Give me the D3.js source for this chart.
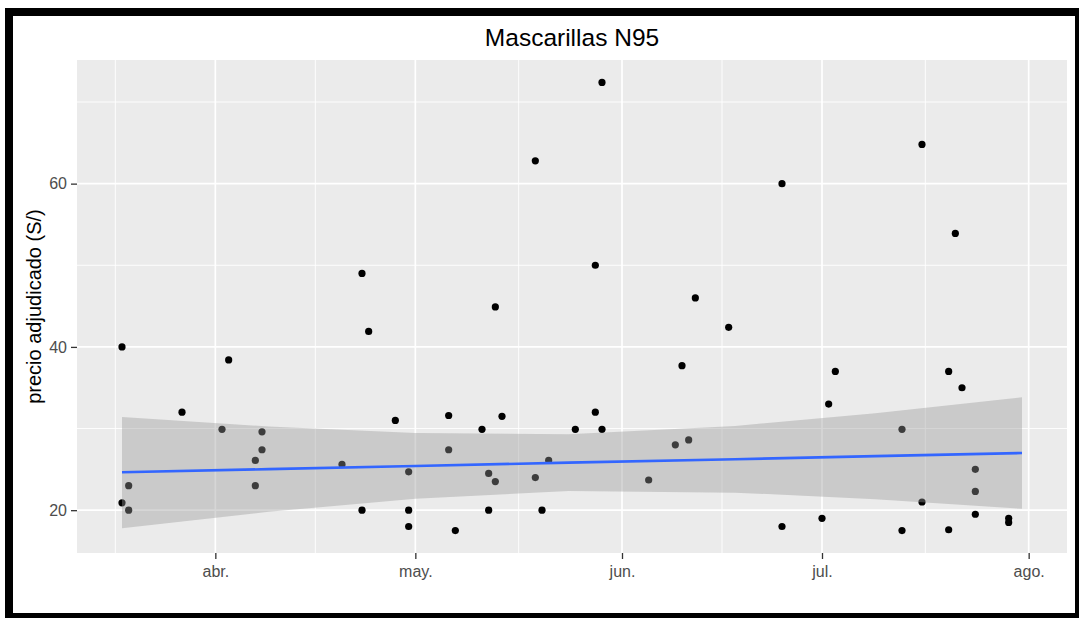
<!DOCTYPE html>
<html>
<head>
<meta charset="utf-8">
<script src="https://cdn.jsdelivr.net/npm/d3@7/dist/d3.min.js"></script>
<style>
  html, body { margin: 0; padding: 0; background: #ffffff; }
  svg { display: block; }
  text { font-family: "Liberation Sans", Arial, Helvetica, sans-serif; }
</style>
</head>
<body>
<svg id="chart" width="1079" height="618"></svg>
<script>
// ---------------- data ----------------
const chartTitle = "Mascarillas N95";
const yAxisTitle = "precio adjudicado (S/)";

const pointDates = [
  "2020-03-18","2020-03-18","2020-03-19","2020-03-19","2020-03-27",
  "2020-04-02","2020-04-03","2020-04-07","2020-04-07","2020-04-08","2020-04-08",
  "2020-04-20","2020-04-23","2020-04-23","2020-04-24","2020-04-28",
  "2020-04-30","2020-04-30","2020-04-30",
  "2020-05-06","2020-05-06","2020-05-07","2020-05-11","2020-05-12","2020-05-12",
  "2020-05-13","2020-05-13","2020-05-14","2020-05-19","2020-05-19","2020-05-20",
  "2020-05-21","2020-05-25","2020-05-28","2020-05-28","2020-05-29","2020-05-29",
  "2020-06-05","2020-06-09","2020-06-10","2020-06-11","2020-06-12","2020-06-17",
  "2020-06-25","2020-06-25",
  "2020-07-01","2020-07-02","2020-07-03","2020-07-13","2020-07-13",
  "2020-07-16","2020-07-16","2020-07-20","2020-07-20","2020-07-21","2020-07-22",
  "2020-07-24","2020-07-24","2020-07-24","2020-07-29","2020-07-29"
];
const prices = [
  40.0, 20.9, 23.0, 20.0, 32.0,
  29.9, 38.4, 26.1, 23.0, 29.6, 27.4,
  25.6, 49.0, 20.0, 41.9, 31.0,
  24.7, 20.0, 18.0,
  31.6, 27.4, 17.5, 29.9, 24.5, 20.0,
  44.9, 23.5, 31.5, 62.8, 24.0, 20.0,
  26.1, 29.9, 50.0, 32.0, 72.4, 29.9,
  23.7, 28.0, 37.7, 28.6, 46.0, 42.4,
  60.0, 18.0,
  19.0, 33.0, 37.0, 29.9, 17.5,
  64.8, 21.0, 37.0, 17.6, 53.9, 35.0,
  25.0, 22.3, 19.5, 19.0, 18.5
];

// linear trend with its confidence band
const smoothDates = ["2020-03-18","2020-04-09","2020-05-01","2020-05-24","2020-06-18","2020-07-09","2020-07-31"];
const smoothFit   = [24.65, 25.03, 25.42, 25.82, 26.24, 26.62, 27.0];
const smoothLower = [17.80, 19.80, 21.40, 22.35, 22.15, 21.35, 20.17];
const smoothUpper = [31.40, 30.25, 29.45, 29.30, 30.32, 31.88, 33.83];

const xTickDates  = ["2020-04-01","2020-05-01","2020-06-01","2020-07-01","2020-08-01"];
const xTickLabels = ["abr.","may.","jun.","jul.","ago."];
const yTicks      = [20, 40, 60];

// ---------------- layout ----------------
const W = 1079, H = 618;
const panel = { left: 77, right: 1067, top: 60, bottom: 553 };
const parse = d3.utcParse("%Y-%m-%d");

const svg = d3.select("#chart");

// outer black frame
svg.append("rect").attr("x", 5).attr("y", 8).attr("width", W - 5 + 10).attr("height", H - 8 + 10).attr("fill", "#000");
svg.append("rect").attr("x", 13).attr("y", 16).attr("width", 1075 - 13).attr("height", 613 - 16).attr("fill", "#fff");

// ---------------- scales ----------------
const pts = pointDates.map((d, i) => ({ date: parse(d), value: prices[i] }));
const smooth = smoothDates.map((d, i) => ({ date: parse(d), fit: smoothFit[i], lo: smoothLower[i], hi: smoothUpper[i] }));

const allDates = pts.map(p => p.date).concat(smooth.map(s => s.date));
const [dMin, dMax] = d3.extent(allDates);
const dSpan = dMax - dMin;
const x = d3.scaleUtc()
  .domain([new Date(+dMin - 0.05 * dSpan), new Date(+dMax + 0.05 * dSpan)])
  .range([panel.left, panel.right]);

const [vMin, vMax] = d3.extent(prices);
const vSpan = vMax - vMin;
const y = d3.scaleLinear()
  .domain([vMin - 0.05 * vSpan, vMax + 0.05 * vSpan])
  .range([panel.bottom, panel.top]);

// ---------------- panel + grid ----------------
svg.append("rect")
  .attr("x", panel.left).attr("y", panel.top)
  .attr("width", panel.right - panel.left).attr("height", panel.bottom - panel.top)
  .attr("fill", "#EBEBEB");

svg.append("clipPath").attr("id", "clip").append("rect")
  .attr("x", panel.left).attr("y", panel.top)
  .attr("width", panel.right - panel.left).attr("height", panel.bottom - panel.top);

const g = svg.append("g").attr("clip-path", "url(#clip)");

// minor breaks (midpoints between major breaks, extended like ggplot2)
const xMajor = xTickDates.map(parse);
const xStep = xMajor[1] - xMajor[0];
const xExt = [new Date(+xMajor[0] - xStep)].concat(xMajor, [new Date(+xMajor[xMajor.length - 1] + xStep)]);
const xMinor = d3.pairs(xExt).map(([a, b]) => new Date((+a + +b) / 2))
  .filter(d => d >= x.domain()[0] && d <= x.domain()[1]);
const yStep = yTicks[1] - yTicks[0];
const yExt = [yTicks[0] - yStep].concat(yTicks, [yTicks[yTicks.length - 1] + yStep]);
const yMinor = d3.pairs(yExt).map(([a, b]) => (a + b) / 2)
  .filter(v => v >= y.domain()[0] && v <= y.domain()[1]);

g.selectAll("line.ymin").data(yMinor).join("line")
  .attr("x1", panel.left).attr("x2", panel.right)
  .attr("y1", d => y(d)).attr("y2", d => y(d))
  .attr("stroke", "#fff").attr("stroke-width", 0.9);
g.selectAll("line.xmin").data(xMinor).join("line")
  .attr("y1", panel.top).attr("y2", panel.bottom)
  .attr("x1", d => x(d)).attr("x2", d => x(d))
  .attr("stroke", "#fff").attr("stroke-width", 0.9);
g.selectAll("line.ymaj").data(yTicks).join("line")
  .attr("x1", panel.left).attr("x2", panel.right)
  .attr("y1", d => y(d)).attr("y2", d => y(d))
  .attr("stroke", "#fff").attr("stroke-width", 1.7);
g.selectAll("line.xmaj").data(xMajor).join("line")
  .attr("y1", panel.top).attr("y2", panel.bottom)
  .attr("x1", d => x(d)).attr("x2", d => x(d))
  .attr("stroke", "#fff").attr("stroke-width", 1.7);

// ---------------- points ----------------
g.selectAll("circle.pt").data(pts).join("circle")
  .attr("cx", d => x(d.date)).attr("cy", d => y(d.value))
  .attr("r", 3.6).attr("fill", "#000");

// ---------------- confidence band + trend ----------------
g.append("path").datum(smooth)
  .attr("d", d3.area().x(d => x(d.date)).y0(d => y(d.lo)).y1(d => y(d.hi)))
  .attr("fill", "#999999").attr("fill-opacity", 0.4);

g.append("path").datum(smooth)
  .attr("d", d3.line().x(d => x(d.date)).y(d => y(d.fit)))
  .attr("fill", "none").attr("stroke", "#3366FF").attr("stroke-width", 2.6);

// ---------------- axes ----------------
const labelMap = new Map(xMajor.map((d, i) => [+d, xTickLabels[i]]));
const xAxis = svg.append("g").attr("transform", `translate(0,${panel.bottom})`)
  .call(d3.axisBottom(x).tickValues(xMajor).tickFormat(d => labelMap.get(+d)).tickSize(6).tickPadding(6.5));
const yAxis = svg.append("g").attr("transform", `translate(${panel.left},0)`)
  .call(d3.axisLeft(y).tickValues(yTicks).tickFormat(d3.format("d")).tickSize(6).tickPadding(4));

[xAxis, yAxis].forEach(a => {
  a.select(".domain").remove();
  a.selectAll(".tick line").attr("stroke", "#333333").attr("stroke-width", 1.3);
  a.selectAll(".tick text").attr("fill", "#4D4D4D").style("font-size", "16px")
    .style("font-family", "'Liberation Sans', Arial, sans-serif");
});

// ---------------- titles ----------------
svg.append("text")
  .attr("x", (panel.left + panel.right) / 2).attr("y", 46)
  .attr("text-anchor", "middle").attr("fill", "#000")
  .style("font-size", "24.5px").text(chartTitle);

svg.append("text")
  .attr("transform", `translate(41,${(panel.top + panel.bottom) / 2}) rotate(-90)`)
  .attr("text-anchor", "middle").attr("fill", "#000")
  .style("font-size", "20px").text(yAxisTitle);
</script>
</body>
</html>
